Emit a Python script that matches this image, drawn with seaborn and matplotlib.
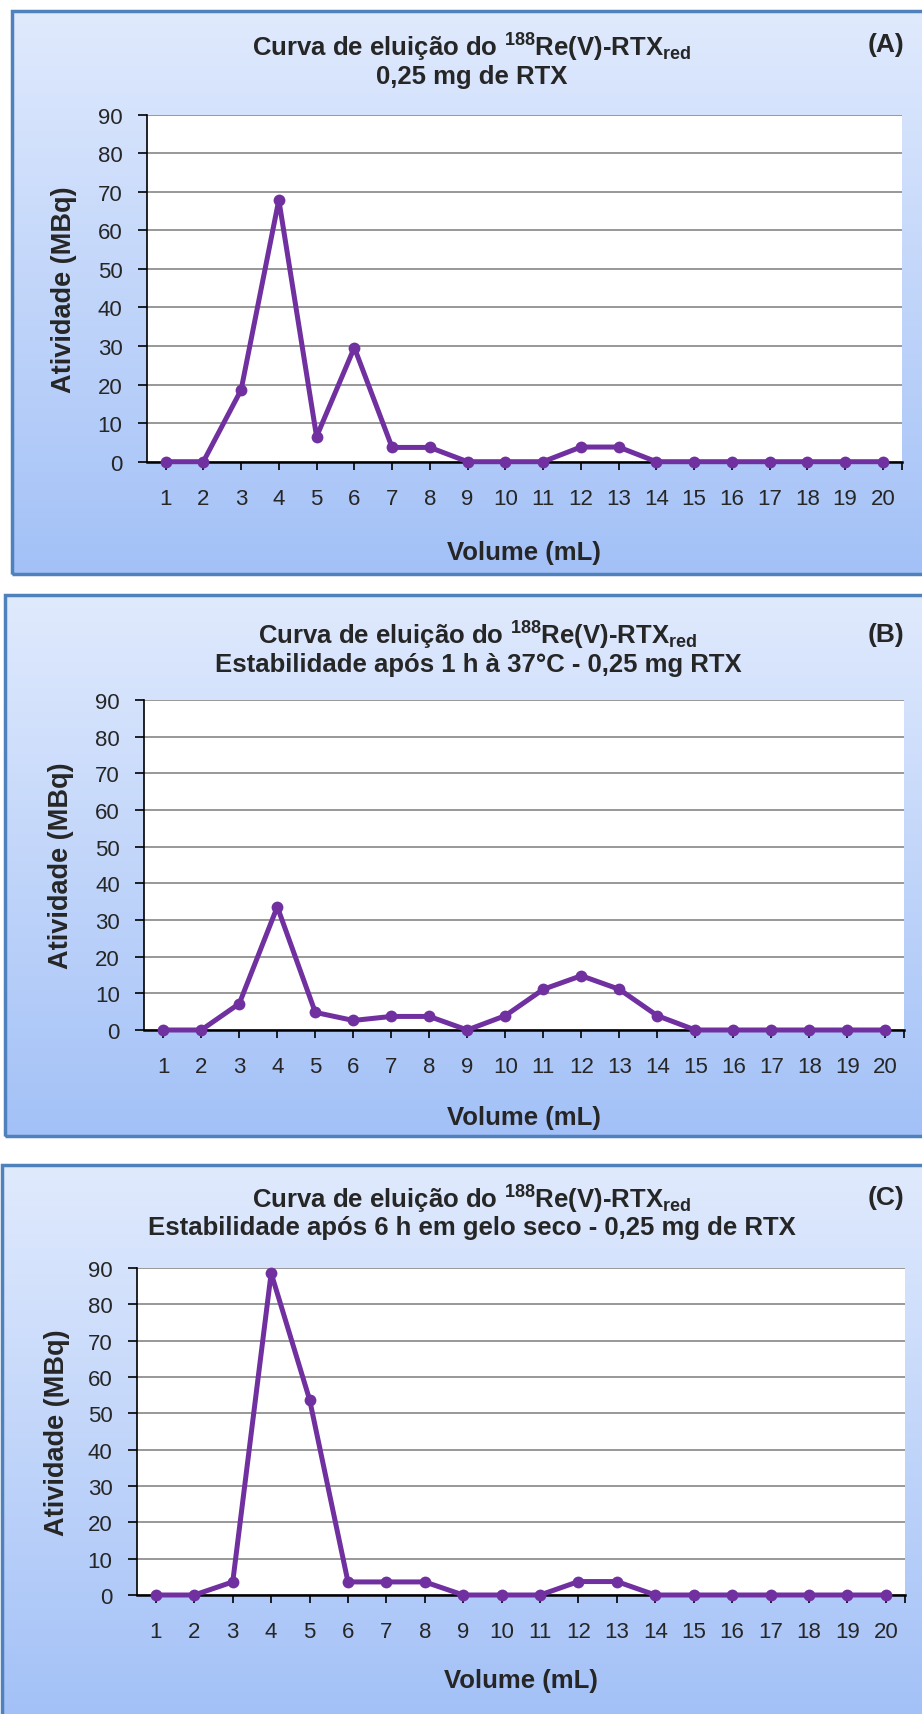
import numpy as np
import pandas as pd
import matplotlib
matplotlib.use("Agg")
import matplotlib.pyplot as plt
from matplotlib.colors import LinearSegmentedColormap
from matplotlib.patches import Rectangle
import seaborn as sns

# ---------------- data ----------------
volume = list(range(1, 21))
activity_A = [0, 0, 18.6, 67.9, 6.5, 29.6, 3.7, 3.7, 0, 0, 0, 3.8, 3.8, 0, 0, 0, 0, 0, 0, 0]
activity_B = [0, 0, 7.2, 33.6, 4.8, 2.6, 3.7, 3.7, 0, 3.9, 11.1, 14.8, 11.1, 3.9, 0, 0, 0, 0, 0, 0]
activity_C = [0, 0, 3.6, 88.6, 53.8, 3.6, 3.6, 3.6, 0, 0, 0, 3.7, 3.7, 0, 0, 0, 0, 0, 0, 0]
title_line1 = r"Curva de eluição do $^{\mathrm{188}}$Re(V)-RTX$_{\mathrm{red}}$"
subtitles = ["0,25 mg de RTX",
             "Estabilidade após 1 h à 37°C - 0,25 mg RTX",
             "Estabilidade após 6 h em gelo seco - 0,25 mg de RTX"]
panel_tags = ["(A)", "(B)", "(C)"]
yticks = [0, 10, 20, 30, 40, 50, 60, 70, 80, 90]
xlabel = "Volume (mL)"
ylabel = "Atividade (MBq)"

# ---------------- style ----------------
sns.set_style("white")
plt.rcParams["font.family"] = ["Liberation Sans", "DejaVu Sans"]
plt.rcParams["mathtext.fontset"] = "custom"
plt.rcParams["mathtext.rm"] = "Liberation Sans:bold"
plt.rcParams["mathtext.bf"] = "Liberation Sans:bold"
plt.rcParams["mathtext.it"] = "Liberation Sans:italic:bold"

W, H = 922, 1715
fig = plt.figure(figsize=(W / 100, H / 100), dpi=100)

def fx(x):
    return x / W

def fy(y):
    return 1 - y / H

line_color = "#7030a0"
border_color = "#4f81bd"
grad_cmap = LinearSegmentedColormap.from_list("bg", ["#a3c1f7", "#e0eafd"])

panels = [
    dict(data=activity_A, box=(12, 12, 926, 575), ax=(146.7, 115.7, 901.7, 462.7),
         t1=48, t2=77, tcx=472, tag_y=45, ylab_x=64, xlab_y=553),
    dict(data=activity_B, box=(5, 596, 926, 1137), ax=(144.3, 701, 904.3, 1031),
         t1=636, t2=665, tcx=478, tag_y=635, ylab_x=61, xlab_y=1118),
    dict(data=activity_C, box=(2, 1166, 926, 1720), ax=(136.7, 1269, 905, 1596),
         t1=1200, t2=1228, tcx=472, tag_y=1198, ylab_x=57, xlab_y=1681),
]

for i, p in enumerate(panels):
    bx0, by0, bx1, by1 = p["box"]
    bg = fig.add_axes([fx(bx0), fy(by1), fx(bx1 - bx0), (by1 - by0) / H])
    bg.set_zorder(0)
    grad = np.linspace(0, 1, 256).reshape(-1, 1)
    bg.imshow(grad, aspect="auto", cmap=grad_cmap, extent=[0, 1, 0, 1], origin="lower")
    bg.set_xlim(0, 1)
    bg.set_ylim(0, 1)
    bg.axis("off")
    bg.add_patch(Rectangle((0, 0), 1, 1, transform=bg.transAxes, fill=False,
                           edgecolor=border_color, lw=2.5, clip_on=False))

    x0, y0, x1, y1 = p["ax"]
    ax = fig.add_axes([fx(x0), fy(y1), fx(x1 - x0), (y1 - y0) / H])
    ax.set_zorder(1)
    ax.set_facecolor("white")

    df = pd.DataFrame({"Volume": volume, "Atividade": p["data"]})
    sns.lineplot(data=df, x="Volume", y="Atividade", ax=ax, color=line_color,
                 linewidth=3.6, marker="o", markersize=8.5, markeredgewidth=0,
                 markerfacecolor=line_color, clip_on=False, zorder=5)

    ax.set_xlim(0.5, 20.5)
    ax.set_ylim(0, 90)
    ax.set_yticks(yticks)
    ax.set_xticks(volume)
    ax.set_xticks([20.5], minor=True)
    ax.set_xticklabels([str(v) for v in volume])
    ax.yaxis.grid(True, color="#868686", lw=1.2)
    ax.xaxis.grid(False)
    ax.set_axisbelow(True)
    for s in ["top", "right"]:
        ax.spines[s].set_visible(False)
    ax.spines["left"].set_color("black")
    ax.spines["left"].set_linewidth(1.2)
    ax.spines["bottom"].set_color("black")
    ax.spines["bottom"].set_linewidth(1.8)
    ax.tick_params(axis="y", direction="out", length=6.5, width=1.2, color="black",
                   pad=11, labelsize=16, left=True)
    ax.tick_params(axis="x", which="both", direction="out", length=6, width=1.2,
                   color="black", pad=13, labelsize=16, bottom=True)
    ax.set_xlabel("")
    ax.set_ylabel("")

    fig.text(fx(p["tcx"]), fy(p["t1"]), title_line1, ha="center", va="center",
             fontsize=18.5, fontweight="bold")
    fig.text(fx(p["tcx"]), fy(p["t2"]), subtitles[i], ha="center", va="center",
             fontsize=18.5, fontweight="bold")
    fig.text(fx(886), fy(p["tag_y"]), panel_tags[i], ha="center", va="center",
             fontsize=19, fontweight="bold")
    fig.text(fx((x0 + x1) / 2), fy(p["xlab_y"]), xlabel, ha="center", va="center",
             fontsize=18.5, fontweight="bold")
    fig.text(fx(p["ylab_x"]), fy((y0 + y1) / 2), ylabel, ha="center", va="center",
             rotation=90, fontsize=19.5, fontweight="bold")

fig.savefig("out.png", dpi=100)
